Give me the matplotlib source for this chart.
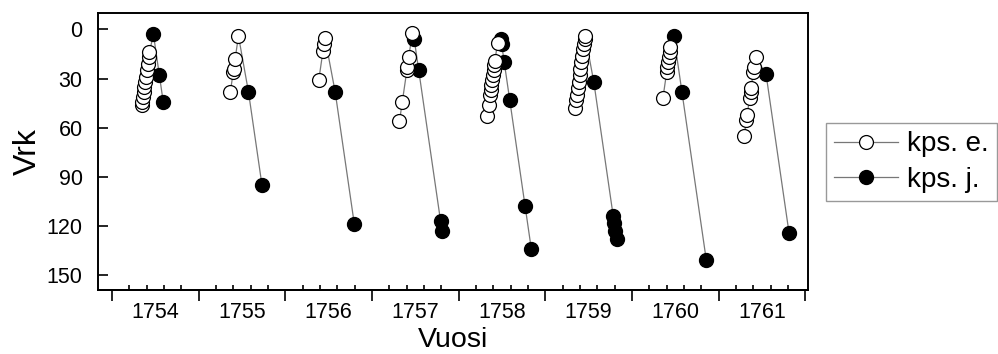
import numpy as np
import matplotlib.pyplot as plt
from matplotlib.lines import Line2D

plt.rcParams['font.family'] = ['Liberation Sans', 'DejaVu Sans']

years = [1754, 1755, 1756, 1757, 1758, 1759, 1760, 1761]

# kps. e. : havaintopäivä (päivä vuoden alusta) ja vuorokaudet
e_day = [
    [126, 128, 131, 134, 137, 140, 143, 147, 151, 155, 158],
    [134, 146, 148, 154, 168],
    [141, 159, 163, 167],
    [116, 128, 147, 149, 155, 170],
    [119, 126, 132, 135, 138, 141, 144, 147, 150, 153, 164],
    [124, 129, 132, 136, 140, 144, 148, 152, 156, 160, 163, 166, 168],
    [130, 146, 149, 152, 155, 158, 161],
    [107, 117, 120, 130, 134, 136, 146, 149, 155],
]
e_vrk = [
    [46, 44, 41, 38, 35, 32, 29, 25, 21, 17, 14],
    [38, 26, 24, 18, 4],
    [31, 13, 9, 5],
    [56, 44, 25, 23, 17, 2],
    [53, 46, 40, 37, 34, 31, 28, 25, 22, 19, 8],
    [48, 43, 40, 36, 32, 28, 24, 20, 16, 12, 9, 6, 4],
    [42, 26, 23, 20, 17, 14, 11],
    [65, 55, 52, 42, 38, 36, 26, 23, 17],
]

# kps. j.
j_day = [
    [175, 200, 216],
    [210, 267],
    [210, 291],
    [178, 197, 289, 295],
    [178, 181, 192, 215, 280, 306],
    [204, 286, 290, 295, 300],
    [176, 210, 313],
    [199, 296],
]
j_vrk = [
    [3, 28, 44],
    [38, 95],
    [38, 119],
    [6, 25, 117, 123],
    [6, 9, 20, 43, 108, 134],
    [32, 114, 118, 123, 128],
    [4, 38, 141],
    [27, 124],
]

fig = plt.figure(figsize=(9.98, 3.54), dpi=100)
ax = fig.add_axes([98 / 998, 1 - 290 / 354, (808 - 98) / 998, (290 - 13) / 354])

for i, yr in enumerate(years):
    xe = [yr + d / 365 for d in e_day[i]]
    xj = [yr + d / 365 for d in j_day[i]]
    xs = np.array(xe + xj)
    ys = np.array(e_vrk[i] + j_vrk[i])
    order = np.argsort(xs)
    ax.plot(xs[order], ys[order], color='#777777', lw=0.9, zorder=1)
    ax.plot(xj, j_vrk[i], 'o', ms=10, mfc='black', mec='black', zorder=2)
    ax.plot(xe, e_vrk[i], 'o', ms=10, mfc='white', mec='black', mew=0.9, zorder=3)

ax.set_xlim(1753.84, 1762.03)
ax.set_ylim(159, -10)

for s in ax.spines.values():
    s.set_linewidth(1.4)

ax.set_yticks(range(0, 151, 30))
ax.tick_params(axis='y', direction='in', length=7, width=1.2, labelsize=15.5, pad=11)

ax.set_xticks(range(1754, 1763))
ax.set_xticklabels([])
ax.tick_params(axis='x', which='major', direction='out', length=8, width=1.2)
ax.set_xticks([y + 0.5 for y in years], minor=True)
ax.set_xticklabels([str(y) for y in years], minor=True)
ax.tick_params(axis='x', which='minor', length=0, labelsize=15.5, pad=9)

sec = ax.secondary_xaxis('bottom')
sec.set_xticks([y + f for y in years for f in (0.2, 0.4, 0.6, 0.8)])
sec.tick_params(direction='in', length=3.5, width=1.2, labelbottom=False)
sec.spines['bottom'].set_linewidth(1.4)

ax.set_xlabel('Vuosi', fontsize=20.5, va='baseline')
ax.xaxis.set_label_coords(0.5, -0.205)
ax.set_ylabel('Vrk', fontsize=23, labelpad=3)

handles = [
    Line2D([], [], color='#777777', lw=0.9, marker='o', ms=10, mfc='white', mec='black', mew=0.9),
    Line2D([], [], color='#777777', lw=0.9, marker='o', ms=10, mfc='black', mec='black'),
]
fig.legend(handles, ['kps. e.', 'kps. j.'], loc='upper left',
           bbox_to_anchor=(826 / 998, 1 - 123 / 354), borderaxespad=0,
           fontsize=20, frameon=True, fancybox=False, edgecolor='#808080',
           borderpad=0.3, labelspacing=0.35, handlelength=2.3, handletextpad=0.3)

fig.savefig('out.png', dpi=100)
